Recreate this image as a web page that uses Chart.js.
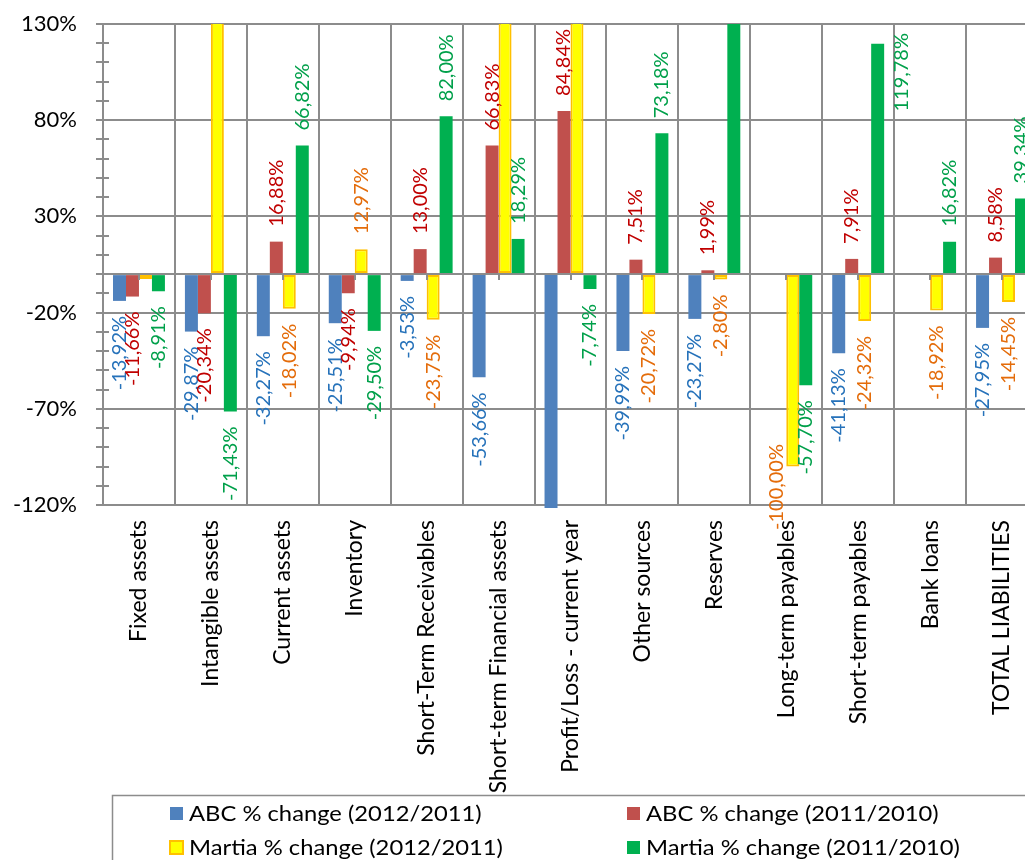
<!DOCTYPE html>
<html>
<head>
<meta charset="utf-8">
<script src="https://cdn.jsdelivr.net/npm/chart.js@4.4.1/dist/chart.umd.min.js"></script>
<style>
  html, body { margin: 0; padding: 0; background: #fff; overflow: hidden; width: 1025px; height: 860px; }
  #wrap { position: relative; width: 1045px; height: 860px; }
  canvas { display: block; }
</style>
</head>
<body>
<div id="wrap"><canvas id="chart" width="1045" height="860"></canvas></div>
<script>
// Balance-sheet items compared
const categories = [
  'Fixed assets', 'Intangible assets', 'Current assets', 'Inventory',
  'Short-Term Receivables', 'Short-term Financial assets', 'Profit/Loss - current year',
  'Other sources', 'Reserves', 'Long-term payables', 'Short-term payables',
  'Bank loans', 'TOTAL LIABILITIES'
];

// Percentage changes per company and period (null = no figure)
const abcChange2012 = [-13.92, -29.87, -32.27, -25.51, -3.53, -53.66, -160, -39.99, -23.27, null, -41.13, null, -27.95];
const abcChange2011 = [-11.66, -20.34, 16.88, -9.94, 13.00, 66.83, 84.84, 7.51, 1.99, null, 7.91, null, 8.58];
const martiaChange2012 = [-2.5, 250, -18.02, 12.97, -23.75, 200, 180, -20.72, -2.80, -100.00, -24.32, -18.92, -14.45];
const martiaChange2011 = [-8.91, -71.43, 66.82, -29.50, 82.00, 18.29, -7.74, 73.18, 300, -57.70, 119.78, 16.82, 39.34];

const seriesNames = [
  'ABC % change (2012/2011)', 'ABC % change (2011/2010)',
  'Martia % change (2012/2011)', 'Martia % change (2011/2010)'
];

// Value axis
const yMin = -120;
const yMax = 130;
const yMajorTicks = [130, 80, 30, -20, -70, -120];

// Points that carry no value label: [dataset, index]
const unlabeledPoints = [[2, 0]];

const GRID = '#8c8c8c';
const barFill = ['#4F81BD', '#C0504D', '#FFFF00', '#00B050'];
const barEdge = ['#4F81BD', '#C0504D', '#FFC000', '#00B050'];
const labelInk = ['#2672BA', '#C00000', '#E46C0A', '#00A04A'];
const FONT = 'Lato, "Open Sans", sans-serif';

const fmtPct = v => v.toFixed(2).replace('.', ',') + '%';
const isMajor = v => yMajorTicks.includes(Math.round(v));

// Small tick marks on the value axis and on the zero line
const axisMarks = {
  id: 'axisMarks',
  afterDatasetsDraw(chart) {
    const { ctx, chartArea: a, scales: { x, y } } = chart;
    ctx.save();
    ctx.strokeStyle = GRID;
    ctx.lineWidth = 2;
    for (let v = yMin; v <= yMax; v += 10) {
      const py = Math.round(y.getPixelForValue(v));
      ctx.beginPath();
      ctx.moveTo(a.left - 7, py);
      ctx.lineTo(isMajor(v) ? a.left : a.left + 6, py);
      ctx.stroke();
    }
    const y0 = y.getPixelForValue(0);
    categories.forEach((c, i) => {
      const px = Math.round(x.getPixelForValue(i));
      ctx.beginPath();
      ctx.moveTo(px, y0);
      ctx.lineTo(px, y0 + 6);
      ctx.stroke();
    });
    ctx.restore();
  }
};

// Rotated value labels at the outer end of each bar
const valueLabels = {
  id: 'valueLabels',
  afterDatasetsDraw(chart) {
    const { ctx, chartArea: a } = chart;
    const GAP = 15;
    ctx.save();
    ctx.font = '20px ' + FONT;
    ctx.textBaseline = 'middle';
    ctx.textAlign = 'left';
    chart.data.datasets.forEach((ds, di) => {
      const meta = chart.getDatasetMeta(di);
      meta.data.forEach((bar, i) => {
        const v = ds.data[i];
        if (v === null || v > yMax || v < yMin) return;
        if (unlabeledPoints.some(p => p[0] === di && p[1] === i)) return;
        const text = fmtPct(v);
        const w = ctx.measureText(text).width;
        let x = bar.x;
        let yStart;
        if (v >= 0) {
          yStart = bar.y - GAP;
          if (yStart - w < a.top) { yStart = a.top + 9 + w; x += 24; }
        } else {
          yStart = bar.y + GAP + w;
          if (yStart > a.bottom + 25) { yStart = a.bottom + 25; x -= 16; }
        }
        ctx.save();
        ctx.translate(x, yStart);
        ctx.rotate(-Math.PI / 2);
        ctx.fillStyle = labelInk[di];
        ctx.fillText(text, 0, 0);
        ctx.restore();
      });
    });
    ctx.restore();
  }
};

// Boxed two-column legend below the category labels
const boxedLegend = {
  id: 'boxedLegend',
  afterDraw(chart) {
    const { ctx } = chart;
    ctx.save();
    ctx.strokeStyle = GRID;
    ctx.lineWidth = 1.5;
    ctx.strokeRect(112.5, 795.5, 1000, 100);
    const cols = [170, 627];
    const rows = [813, 847];
    ctx.font = '22px ' + FONT;
    ctx.textBaseline = 'middle';
    ctx.textAlign = 'left';
    chart.data.datasets.forEach((ds, di) => {
      const cx = cols[di % 2];
      const cy = rows[Math.floor(di / 2)];
      ctx.fillStyle = ds.backgroundColor;
      ctx.fillRect(cx, cy - 6, 13, 13);
      if (ds.borderColor !== ds.backgroundColor) {
        ctx.strokeStyle = ds.borderColor;
        ctx.lineWidth = 2;
        ctx.strokeRect(cx, cy - 6, 13, 13);
      }
      ctx.fillStyle = '#000';
      ctx.save();
      ctx.translate(cx + 19, cy);
      ctx.scale(1.08, 1);
      ctx.fillText(ds.label, 0, 1);
      ctx.restore();
    });
    ctx.restore();
  }
};

const seriesData = [abcChange2012, abcChange2011, martiaChange2012, martiaChange2011];

new Chart(document.getElementById('chart'), {
  type: 'bar',
  data: {
    labels: categories,
    datasets: seriesData.map((d, i) => ({
      label: seriesNames[i],
      data: d,
      backgroundColor: barFill[i],
      borderColor: barEdge[i],
      borderWidth: i === 2 ? 2 : 0,
      borderSkipped: false,
      categoryPercentage: 0.722,
      barPercentage: 1.0,
      clip: { left: 0, top: 0, right: 0, bottom: 3 }
    }))
  },
  options: {
    responsive: false,
    animation: false,
    devicePixelRatio: 1,
    layout: { padding: { top: 24, right: 7, left: 0, bottom: 0 } },
    plugins: { legend: { display: false }, tooltip: { enabled: false } },
    scales: {
      x: {
        grid: { color: GRID, lineWidth: 2, offset: true, drawTicks: false },
        border: { display: true, color: GRID, width: 2 },
        ticks: {
          autoSkip: false, minRotation: 90, maxRotation: 90, padding: 15,
          color: '#000', font: { family: FONT, size: 23 }
        },
        afterFit: s => { s.height = 355; s.paddingLeft = 0; s.paddingRight = 0; }
      },
      y: {
        min: yMin, max: yMax,
        ticks: {
          stepSize: 10, autoSkip: false, padding: 26, color: '#000',
          font: { family: FONT, size: 22 },
          callback: v => isMajor(v) ? Math.round(v) + '%' : ''
        },
        grid: {
          drawTicks: false, lineWidth: 2,
          color: c => (isMajor(c.tick.value) || Math.round(c.tick.value) === 0) ? GRID : 'rgba(0,0,0,0)'
        },
        border: { color: GRID, width: 2 },
        afterFit: s => { s.width = 103; s.paddingTop = 0; s.paddingBottom = 0; }
      }
    }
  },
  plugins: [axisMarks, valueLabels, boxedLegend]
});
</script>
</body>
</html>
